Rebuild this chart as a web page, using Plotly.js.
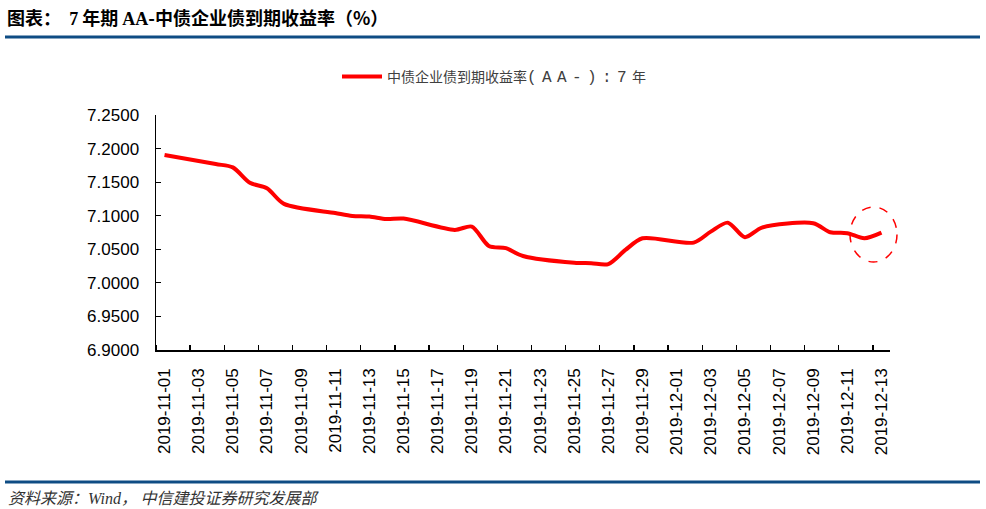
<!DOCTYPE html>
<html>
<head>
<meta charset="utf-8">
<script src="https://cdn.plot.ly/plotly-3.0.1.min.js"></script>
<style>
html,body{margin:0;padding:0;background:#fff;}
#chart{width:986px;height:509px;}
</style>
</head>
<body>
<div id="chart"></div>
<script>
// Trading dates and yields (%)
const dates = [
  '2019-11-01','2019-11-04','2019-11-05','2019-11-06','2019-11-07','2019-11-08',
  '2019-11-11','2019-11-12','2019-11-13','2019-11-14','2019-11-15',
  '2019-11-18','2019-11-19','2019-11-20','2019-11-21','2019-11-22',
  '2019-11-25','2019-11-26','2019-11-27','2019-11-28','2019-11-29',
  '2019-12-02','2019-12-03','2019-12-04','2019-12-05','2019-12-06',
  '2019-12-09','2019-12-10','2019-12-11','2019-12-12','2019-12-13'
];
const yields = [
  7.1905, 7.1770, 7.1720, 7.1490, 7.1410, 7.1176,
  7.1040, 7.0997, 7.0987, 7.0950, 7.0957,
  7.0789, 7.0838, 7.0550, 7.0516, 7.0400,
  7.0300, 7.0293, 7.0280, 7.0490, 7.0664,
  7.0600, 7.0763, 7.0897, 7.0680, 7.0823,
  7.0888, 7.0754, 7.0740, 7.0665, 7.0749
];
const seriesName = '中债企业债到期收益率<span style="font-family:\'Liberation Mono\';font-size:16px;letter-spacing:5.4px">(AA-):7</span>年';
const tickDates = [
  '2019-11-01','2019-11-03','2019-11-05','2019-11-07','2019-11-09','2019-11-11',
  '2019-11-13','2019-11-15','2019-11-17','2019-11-19','2019-11-21','2019-11-23',
  '2019-11-25','2019-11-27','2019-11-29','2019-12-01','2019-12-03','2019-12-05',
  '2019-12-07','2019-12-09','2019-12-11','2019-12-13'
];
const tickLabels = tickDates.slice();
const titleText = '<b>图表：  <span style="font-family:\'Liberation Serif\'">7</span> 年期 <span style="font-family:\'Liberation Serif\'">AA</span>-中债企业债到期收益率（%）</b>';
const sourceText = '<i>资料来源：<span style="font-family:\'Liberation Serif\'">Wind</span>， 中信建投证券研究发展部</i>';

// plot area pixel geometry helpers (for decorations outside the plot)
const L = 156, R = 890, T = 115, B = 350;
const px = x => (x - L) / (R - L);
const py = y => (B - y) / (B - T);

const trace = {
  x: dates, y: yields, type: 'scatter', mode: 'lines', name: seriesName,
  line: {color: '#ff0000', width: 4, shape: 'spline', smoothing: 0.8}
};

const layout = {
  width: 986, height: 509,
  margin: {l: L, r: 986 - R, t: T, b: 509 - B},
  paper_bgcolor: '#ffffff', plot_bgcolor: '#ffffff',
  font: {family: '"Liberation Sans", Arial, sans-serif', color: '#000'},
  title: {
    text: titleText, x: 7 / 986, xanchor: 'left', xref: 'container',
    y: 1 - 19 / 509, yanchor: 'middle', yref: 'container',
    font: {family: '"Noto Sans CJK SC", sans-serif', size: 18, color: '#000'}
  },
  showlegend: true,
  legend: {
    orientation: 'h', x: px(337), xanchor: 'left', y: py(77), yanchor: 'middle',
    font: {family: '"Noto Sans CJK SC", sans-serif', size: 14, color: '#404040'},
    itemwidth: 40, bgcolor: 'rgba(0,0,0,0)'
  },
  xaxis: {
    type: 'date',
    range: ['2019-10-31 12:00', '2019-12-13 12:00'],
    tickmode: 'array', tickvals: tickDates, ticktext: tickLabels,
    tickangle: -90, ticks: '', ticklabelstandoff: 10,
    tickfont: {size: 17, family: '"Liberation Sans", Arial, sans-serif', color: '#000'},
    showline: true, linecolor: '#000', linewidth: 1.5,
    showgrid: false, zeroline: false,
    minor: {tick0: '2019-11-02 12:00', dtick: 172800000, ticks: 'inside', ticklen: 5,
            tickcolor: '#000', tickwidth: 1.3, showgrid: false}
  },
  yaxis: {
    range: [6.8999, 7.2501], tick0: 6.9, dtick: 0.05, tickformat: '.4f',
    ticks: 'inside', ticklen: 5, tickcolor: '#000', tickwidth: 1.3,
    ticklabelstandoff: 12,
    tickfont: {size: 17, family: '"Liberation Sans", Arial, sans-serif', color: '#000'},
    showline: true, linecolor: '#000', linewidth: 1.5,
    showgrid: false, zeroline: false
  },
  shapes: [
    {type: 'line', xref: 'paper', yref: 'paper', x0: px(5), x1: px(980), y0: py(37), y1: py(37),
     line: {color: '#0e4c84', width: 3}},
    {type: 'line', xref: 'paper', yref: 'paper', x0: px(5), x1: px(980), y0: py(482), y1: py(482),
     line: {color: '#0e4c84', width: 3}},
    {type: 'circle', xref: 'paper', yref: 'paper', x0: px(850), x1: px(897),
     y0: py(262), y1: py(207), line: {color: '#ff0000', width: 1.5, dash: 'dash'}}
  ],
  annotations: [
    {text: sourceText, xref: 'paper', yref: 'paper', x: px(6), y: py(497),
     xanchor: 'left', yanchor: 'middle', showarrow: false,
     font: {family: '"Noto Sans CJK SC", sans-serif', size: 16, color: '#333'}}
  ]
};

Plotly.newPlot('chart', [trace], layout, {displayModeBar: false, staticPlot: true});
</script>
</body>
</html>
